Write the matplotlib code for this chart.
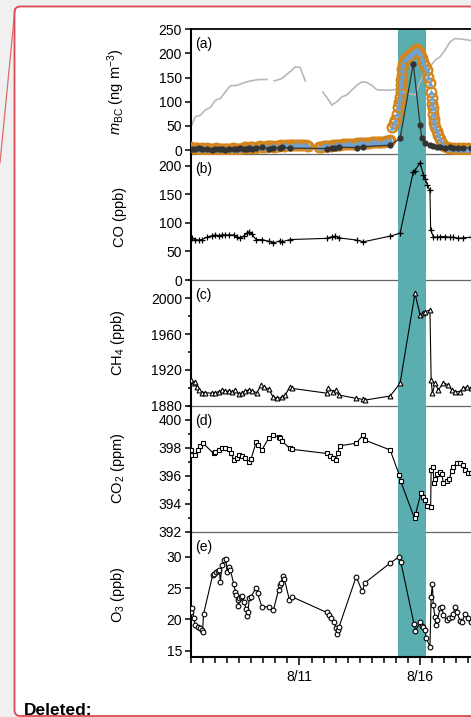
import numpy as np
import matplotlib.pyplot as plt
from matplotlib.patches import FancyBboxPatch
from matplotlib.lines import Line2D
from matplotlib.transforms import IdentityTransform
from matplotlib.ticker import MultipleLocator, FixedLocator

plt.rcParams['font.family'] = 'Liberation Sans'
plt.rcParams['mathtext.fontset'] = 'custom'
plt.rcParams['mathtext.rm'] = 'Liberation Sans'
plt.rcParams['mathtext.it'] = 'Liberation Sans:italic'

# x values are day of August (decimal)
# panel (a): grey trace, with gaps
gray_day = [6.50, 6.68, 6.89, 7.09, 7.30, 7.51, 7.72, 7.92, 8.13, 8.41, 8.68, 8.96, 9.30, 9.65, 9.80,
            9.95, 10.27, 10.48, 10.68, 10.82, 11.03, 11.24, 11.60,
            11.97, 12.16, 12.34, 12.55, 12.76, 12.96, 13.17, 13.38, 13.58, 13.79, 14.00, 14.20,
            14.41, 14.76, 15.03, 15.31, 15.59, 15.79, 16.00, 16.21, 16.41, 16.62, 16.83, 17.04,
            17.24, 17.45, 17.66, 18.11]
gray_val = [48, 69, 72, 83, 88, 103, 107, 120, 133, 134, 139, 143, 146, 146, np.nan,
            143, 148, 157, 165, 172, 171, 143, np.nan,
            120, 107, 93, 100, 110, 114, 124, 134, 141, 140, 134, 125,
            124, 124, 126, 122, 116, 114, 141, 162, 172, 186, 193, 207,
            224, 231, 230, 227]

# panel (a): orange circles / blue triangles
bc_day = [6.45, 6.55, 6.65, 6.75, 6.85, 6.95, 7.05, 7.15, 7.25, 7.35, 7.45, 7.55, 7.65, 7.75,
          7.85, 7.95, 8.05, 8.15, 8.25, 8.35, 8.45, 8.55, 8.65, 8.75, 8.85, 8.95, 9.05, 9.15,
          9.25, 9.35, 9.45, 9.55, 9.65, 9.75, 9.85, 9.95, 10.05, 10.15, 10.25, 10.35, 10.45,
          10.55, 10.65, 10.75, 10.85, 10.95, 11.05, 11.15, 11.25, 11.35,
          11.80, 11.90, 12.00, 12.10, 12.20, 12.30, 12.40, 12.50, 12.60, 12.70, 12.80, 12.90,
          13.00, 13.10, 13.20, 13.30, 13.40, 13.50, 13.60, 13.70, 13.80, 13.90, 14.00, 14.10,
          14.20, 14.30, 14.40, 14.50, 14.60, 14.70, 14.76, 14.83, 14.90, 14.96, 15.03, 15.10,
          15.14, 15.17, 15.20, 15.21, 15.22, 15.24, 15.27, 15.31, 15.38, 15.45, 15.52, 15.59,
          15.65, 15.72, 15.79, 15.86, 15.93, 16.00, 16.07, 16.14, 16.21, 16.28, 16.35, 16.41,
          16.45, 16.48, 16.50, 16.53, 16.55, 16.56, 16.58, 16.62, 16.69, 16.76, 16.83, 16.90,
          17.00, 17.10, 17.20, 17.30, 17.40, 17.50, 17.60, 17.70, 17.80, 17.90, 18.00, 18.10,
          18.20]
bc_val = [6, 5, 4, 5, 3, 4, 3, 4, 2, 3, 2, 4, 3, 2,
          3, 2, 3, 2, 4, 3, 2, 3, 5, 6, 5, 7, 6, 5,
          7, 8, 6, 7, 8, 9, 8, 7, 8, 9, 10, 9, 10,
          11, 10, 11, 10, 11, 10, 11, 10, 9,
          6, 7, 8, 8, 9, 9, 10, 10, 11, 11, 12, 12,
          12, 13, 13, 13, 14, 14, 14, 15, 15, 15, 16, 16,
          16, 17, 17, 17, 18, 18, 20, 48, 55, 62, 75, 89,
          100, 110, 122, 134, 145, 155, 167, 179, 188, 193, 195, 196,
          200, 203, 207, 210, 205, 200, 191, 182, 173, 165, 152, 138,
          120, 107, 96, 86, 75, 65, 56, 48, 40, 31, 22, 14,
          9, 7, 5, 4, 4, 3, 4, 3, 4, 3, 4, 3,
          4]

# panel (a): dark dots
dk_day = [6.54, 6.68, 6.82, 6.96, 7.16, 7.37, 7.51, 7.65, 7.78, 7.92, 8.06, 8.27, 8.41, 8.54,
          8.68, 8.82, 8.92, 9.03, 9.20, 9.44, 9.72, 9.92, 10.20, 10.27, 10.61, 12.13, 12.34,
          12.48, 12.62, 13.38, 13.65, 14.76, 15.17, 15.72, 16.00, 16.07, 16.21, 16.41, 16.55,
          16.69, 16.83, 17.04, 17.24, 17.38, 17.59, 17.80, 18.11]
dk_val = [3, 2, 4, 2, 3, 1, 2, 3, 2, 1, 2, 3, 2, 4,
          2, 3, 5, 3, 4, 6, 3, 4, 5, 6, 4, 3, 5,
          4, 6, 5, 7, 10, 24, 179, 52, 24, 14, 10, 8,
          6, 6, 5, 6, 4, 5, 4, 5]

# panel (b): CO
co_day = [6.54, 6.68, 6.82, 6.96, 7.16, 7.37, 7.51, 7.65, 7.78, 7.92, 8.06, 8.27, 8.41, 8.54,
          8.68, 8.82, 8.92, 9.03, 9.20, 9.44, 9.72, 9.92, 10.20, 10.27, 10.61, 12.13, 12.34,
          12.48, 12.62, 13.38, 13.65, 14.76, 15.17, 15.72, 15.79, 16.00, 16.14, 16.21, 16.30,
          16.41, 16.44, 16.55, 16.69, 16.83, 17.04, 17.24, 17.38, 17.59, 17.80, 18.11]
co_val = [73, 71, 70, 71, 75, 78, 79, 78, 79, 79, 79, 79, 76, 73,
          77, 82, 85, 80, 71, 71, 68, 65, 69, 67, 71, 73, 76,
          77, 74, 70, 67, 77, 82, 190, 192, 206, 184, 178, 167,
          157, 88, 76, 75, 76, 76, 75, 75, 73, 74, 75]

# panel (c): CH4
ch4_day = [6.50, 6.58, 6.65, 6.75, 6.82, 6.96, 7.09, 7.37, 7.51, 7.65, 7.78, 7.92, 8.06, 8.20,
           8.34, 8.48, 8.61, 8.75, 8.89, 9.03, 9.23, 9.41, 9.51, 9.72, 9.90, 10.06, 10.27,
           10.41, 10.59, 10.68, 12.13, 12.20, 12.41, 12.52, 12.62, 13.35, 13.65, 13.72, 14.76,
           15.17, 15.79, 16.00, 16.14, 16.21, 16.41, 16.46, 16.51, 16.62, 16.76, 16.97, 17.17,
           17.31, 17.45, 17.66, 17.80, 17.93, 18.11]
ch4_val = [1908.7, 1905, 1907, 1901, 1897.5, 1894.5, 1894.5, 1894, 1894.5, 1895.7, 1897, 1896.4,
           1896.4, 1895.7, 1897, 1893, 1894, 1896.4, 1897.5, 1896.4, 1894.5, 1903, 1900.5,
           1898.6, 1890, 1888.2, 1889.3, 1892, 1900.5, 1899.4, 1894, 1899.4, 1895.7, 1897.5,
           1892, 1888.2, 1887, 1886.3, 1890.8, 1905, 2005.6, 1981.4, 1983, 1985, 1987, 1908.7,
           1894, 1905, 1897.5, 1905.7, 1903, 1897.5, 1895.7, 1895.7, 1899.4, 1900.5, 1899.4]

# panel (d): CO2
co2_day = [6.50, 6.54, 6.68, 6.78, 6.86, 7.00, 7.44, 7.51, 7.65, 7.78, 7.92, 8.06, 8.16, 8.29,
           8.41, 8.48, 8.61, 8.75, 8.89, 8.99, 9.21, 9.27, 9.44, 9.72, 9.92, 10.13, 10.20,
           10.27, 10.59, 10.68, 12.13, 12.27, 12.41, 12.51, 12.58, 12.66, 13.35, 13.63, 13.72,
           14.76, 15.14, 15.20, 15.77, 15.82, 16.03, 16.11, 16.21, 16.28, 16.44, 16.46, 16.53,
           16.58, 16.64, 16.72, 16.83, 16.90, 16.97, 17.10, 17.22, 17.31, 17.38, 17.52, 17.66,
           17.80, 17.86, 18.00, 18.11]
co2_val = [397.85, 397.5, 397.5, 397.85, 398.1, 398.33, 397.6, 397.7, 397.85, 397.97, 398.0,
           397.9, 397.6, 397.1, 397.25, 397.5, 397.4, 397.25, 397.0, 397.2, 398.45, 398.2,
           397.85, 398.7, 398.9, 398.8, 398.7, 398.5, 397.97, 397.9, 397.6, 397.4, 397.25,
           397.1, 397.6, 398.15, 398.33, 398.9, 398.55, 397.85, 396.05, 395.6, 392.95, 393.27,
           394.75, 394.45, 394.27, 393.86, 393.8, 396.42, 396.6, 395.5, 395.8, 396.1, 396.3,
           396.1, 395.46, 395.65, 395.8, 396.37, 396.66, 396.9, 396.95, 396.78, 396.42, 396.22,
           396.18]

# panel (e): O3
o3_day = [6.50, 6.55, 6.61, 6.68, 6.78, 6.89, 6.96, 6.98, 7.02, 7.40, 7.47, 7.54, 7.60, 7.67,
          7.72, 7.78, 7.88, 7.95, 7.99, 8.06, 8.13, 8.27, 8.34, 8.38, 8.43, 8.47, 8.51, 8.57,
          8.61, 8.71, 8.78, 8.82, 8.86, 8.92, 8.99, 9.19, 9.26, 9.44, 9.72, 9.92, 10.13, 10.20,
          10.24, 10.30, 10.37, 10.58, 10.69, 12.13, 12.24, 12.31, 12.45, 12.51, 12.55, 12.59,
          12.64, 13.35, 13.60, 13.72, 14.76, 15.14, 15.20, 15.75, 15.81, 16.00, 16.07, 16.14,
          16.21, 16.25, 16.41, 16.46, 16.51, 16.55, 16.62, 16.65, 16.72, 16.83, 16.90, 16.97,
          17.10, 17.22, 17.31, 17.38, 17.45, 17.52, 17.66, 17.73, 17.86, 18.00, 18.11]
o3_val = [21.2, 21.75, 20.2, 19.1, 18.7, 18.6, 18.3, 18.0, 20.85, 27.1, 27.3, 27.5, 27.75, 27.9,
          26.0, 28.7, 29.5, 29.6, 27.6, 28.4, 27.9, 25.7, 24.4, 23.9, 23.1, 22.2, 23.4, 23.5,
          23.7, 22.8, 21.65, 20.5, 21.2, 23.35, 23.6, 25.0, 24.15, 22.0, 22.0, 21.5, 24.7, 25.5,
          25.85, 26.9, 26.5, 23.1, 23.6, 21.1, 20.7, 20.2, 19.5, 18.6, 17.6, 18.3,
          18.8, 26.8, 24.5, 25.85, 29.0, 30.0, 29.2, 19.25, 18.2, 19.5, 18.9, 18.7,
          18.3, 17.1, 15.6, 23.6, 25.6, 22.3, 20.3, 19.1, 19.9, 21.75, 22.0, 20.7,
          19.9, 20.2, 20.4, 20.85, 22.0, 21.2, 19.8, 19.5, 20.85, 20.2, 19.6]

band = (15.10, 16.24)
xlim = (6.5, 18.113)
tick_days = [11, 16]
tick_labels = ['8/11', '8/16']

W, H = 471, 717
teal = '#5aaeb0'
red = '#db4a52'

fig = plt.figure(figsize=(W / 100, H / 100), dpi=100, facecolor='#f0f0f0')

# document frame around the figure
frame = FancyBboxPatch((14.5, 1.0), 600, H - 7.5, boxstyle='round,pad=0,rounding_size=6',
                       transform=IdentityTransform(), facecolor='white', edgecolor=red, lw=1.3,
                       zorder=-5)
fig.add_artist(frame)
fig.add_artist(Line2D([15, 0], [H - 9, H - 163], transform=IdentityTransform(),
                      color=red, lw=0.9, alpha=0.8, zorder=-4))
fig.text(24 / W, 1 - 715 / H, 'Deleted:', fontsize=12.5, fontweight='bold',
         family='Liberation Sans', va='baseline', ha='left')

left = 191 / W
width = (W - 191) / W
# (top px, bottom px) of each panel
rows = [(29.3, 154.3), (154.3, 280.0), (280.0, 405.7), (405.7, 531.7), (531.7, 657.3)]
axes = []
for top, bot in rows:
    ax = fig.add_axes([left, 1 - bot / H, width, (bot - top) / H])
    axes.append(ax)

ylims = [(-8.9, 250), (0, 220.5), (1880, 2020.4), (392, 401.02), (13.94, 34.0)]
ymaj = [50, 50, 40, 2, 5]
ymin = [None, None, 20, 1, None]
ylabels = [r'$m_{\mathrm{BC}}$ (ng m$^{-3}$)', 'CO (ppb)', r'CH$_4$ (ppb)',
           r'CO$_2$ (ppm)', r'O$_3$ (ppb)']
letters = ['(a)', '(b)', '(c)', '(d)', '(e)']

for i, ax in enumerate(axes):
    ax.set_xlim(*xlim)
    ax.set_ylim(*ylims[i])
    ax.set_facecolor('none')
    ax.axvspan(band[0], band[1], color=teal, lw=0, zorder=1)
    ax.spines['right'].set_visible(False)
    ax.spines['left'].set_linewidth(1.5)
    if i == 0:
        ax.spines['top'].set_linewidth(1.3)
    else:
        ax.spines['top'].set_visible(False)
    if i < 4:
        ax.spines['bottom'].set_color('#666666')
        ax.spines['bottom'].set_linewidth(0.9)
        ax.spines['bottom'].set_zorder(0.5)
        ax.tick_params(axis='x', which='both', bottom=False, labelbottom=False)
    else:
        ax.spines['bottom'].set_linewidth(1.5)
        ax.xaxis.set_major_locator(FixedLocator(tick_days))
        ax.set_xticklabels(tick_labels)
        ax.xaxis.set_minor_locator(MultipleLocator(0.5))
        ax.tick_params(axis='x', which='major', length=6, width=1.1, labelsize=10, pad=3)
        ax.tick_params(axis='x', which='minor', length=4.3, width=1.1)
    ax.yaxis.set_major_locator(MultipleLocator(ymaj[i]))
    if ymin[i]:
        ax.yaxis.set_minor_locator(MultipleLocator(ymin[i]))
    ax.tick_params(axis='y', which='major', length=4.5, width=1.1, labelsize=10, pad=2)
    ax.tick_params(axis='y', which='minor', length=2.5, width=1.1)
    ax.set_ylabel(ylabels[i], fontsize=10.5)
    ax.yaxis.set_label_coords(-0.23, 0.5)
    ax.text(4 / (W - 191), 0.935, letters[i], transform=ax.transAxes, fontsize=10,
            va='top', ha='left')

ax = axes[0]
ax.plot(gray_day, gray_val, color='#b8b8b8', lw=1.2, zorder=2)
ax.plot(bc_day, bc_val, 'o', ms=7, mfc='none', mec='#d4861c', mew=1.6, zorder=3)
ax.plot(bc_day, bc_val, '^', ms=5, color='#6ea2d4', mec='none', zorder=4)
ax.plot(dk_day, dk_val, '-o', color='#333333', ms=3.5, lw=0.9, zorder=5)

axes[1].plot(co_day, co_val, '-+', color='black', ms=5, mew=0.9, lw=0.8, zorder=3)
axes[2].plot(ch4_day, ch4_val, '-^', color='black', mfc='white', ms=3.5, mew=0.8, lw=0.8, zorder=3)
axes[3].plot(co2_day, co2_val, '-s', color='black', mfc='white', ms=3.2, mew=0.8, lw=0.8, zorder=3)
axes[4].plot(o3_day, o3_val, '-o', color='black', mfc='white', ms=3.4, mew=0.8, lw=0.8, zorder=3)

fig.savefig('out.png', dpi=100, facecolor=fig.get_facecolor())
